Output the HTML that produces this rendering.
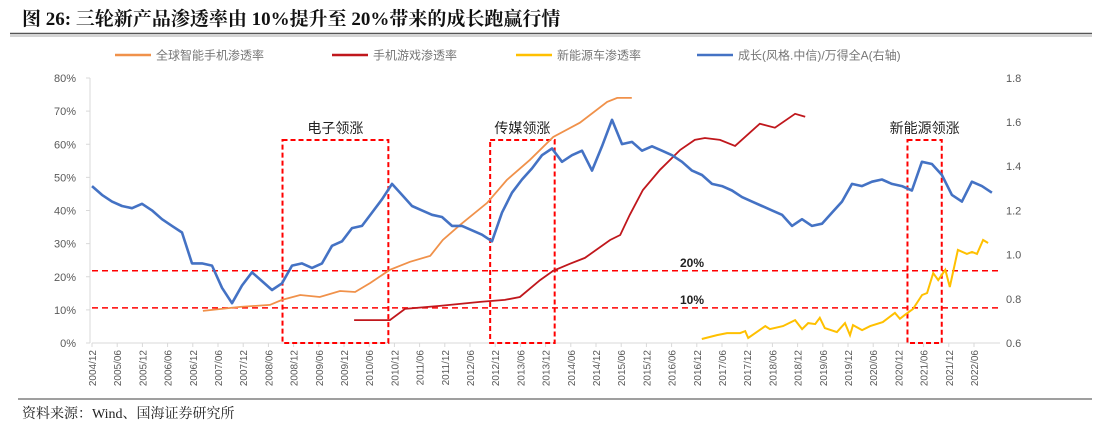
<!DOCTYPE html>
<html><head><meta charset="utf-8"><style>
body{margin:0;background:#fff;}
svg text{font-family:"Liberation Sans","Noto Sans CJK SC",sans-serif;}
</style></head><body>
<svg id="c" width="1108" height="441" viewBox="0 0 1108 441" xmlns="http://www.w3.org/2000/svg">
<text x="22" y="25" font-size="19" font-weight="bold" fill="#111" style="font-family:'Liberation Serif','Noto Serif CJK SC',serif">图 26:  三轮新产品渗透率由 10%提升至 20%带来的成长跑赢行情</text>
<line x1="10" y1="33.5" x2="1092" y2="33.5" stroke="#555" stroke-width="1.5"/>
<line x1="10" y1="36" x2="1092" y2="36" stroke="#aaa" stroke-width="1"/>
<line x1="18" y1="399" x2="1092" y2="399" stroke="#666" stroke-width="1.2"/>
<text x="22" y="418" font-size="14" fill="#222" style="font-family:'Liberation Serif','Noto Serif CJK SC',serif">资料来源：Wind、国海证券研究所</text>
<g id="legend"></g>
<g id="axes"></g><g id="marks"></g>
</svg>
<script>
const xTicks=["2004/12","2005/06","2005/12","2006/06","2006/12","2007/06","2007/12","2008/06","2008/12","2009/06","2009/12","2010/06","2010/12","2011/06","2011/12","2012/06","2012/12","2013/06","2013/12","2014/06","2014/12","2015/06","2015/12","2016/06","2016/12","2017/06","2017/12","2018/06","2018/12","2019/06","2019/12","2020/06","2020/12","2021/06","2021/12","2022/06"];
const leftTicks=[0,10,20,30,40,50,60,70,80];
const rightTicks=[0.6,0.8,1.0,1.2,1.4,1.6,1.8];
const blueStart=2004.92, blueStep=0.1984;
const blueVals=[1.31,1.27,1.24,1.22,1.21,1.23,1.20,1.16,1.13,1.10,0.96,0.96,0.95,0.85,0.78,0.86,0.92,0.88,0.84,0.87,0.95,0.96,0.94,0.96,1.04,1.06,1.12,1.13,1.19,1.25,1.32,1.27,1.22,1.20,1.18,1.17,1.13,1.13,1.11,1.09,1.06,1.19,1.28,1.34,1.39,1.45,1.48,1.42,1.45,1.47,1.38,1.49,1.61,1.50,1.51,1.47,1.49,1.47,1.45,1.42,1.38,1.36,1.32,1.31,1.29,1.26,1.24,1.22,1.20,1.18,1.13,1.16,1.13,1.14,1.19,1.24,1.32,1.31,1.33,1.34,1.32,1.31,1.29,1.42,1.41,1.36,1.27,1.24,1.33,1.31,1.28];
const orangeT=[2007.12,2007.86,2008.45,2008.69,2009.05,2009.44,2009.84,2010.14,2010.44,2010.83,2011.23,2011.63,2011.88,2012.22,2012.76,2013.15,2013.61,2014.07,2014.60,2015.14,2015.34,2015.63];
const orangeV=[9.7,10.9,11.5,13.0,14.5,13.9,15.7,15.4,18.1,22.1,24.5,26.3,31.1,35.6,42.3,49.2,55.3,62.2,66.5,72.8,74.0,74.0];
const redT=[2010.12,2010.83,2011.13,2011.82,2012.62,2013.11,2013.41,2013.81,2014.07,2014.40,2014.70,2015.20,2015.40,2015.59,2015.85,2016.19,2016.59,2016.88,2017.08,2017.38,2017.68,2018.17,2018.47,2018.87,2019.07];
const redV=[6.9,6.9,10.3,11.2,12.4,13.0,13.9,19.0,21.8,23.9,25.7,31.1,32.6,38.7,46.2,52.3,58.3,61.3,61.9,61.3,59.5,66.2,65.0,69.2,68.3];
const yellowT=[2017.02,2017.32,2017.52,2017.78,2017.88,2017.94,2018.28,2018.37,2018.63,2018.87,2019.01,2019.13,2019.27,2019.36,2019.46,2019.70,2019.86,2019.96,2020.02,2020.20,2020.36,2020.61,2020.85,2020.95,2021.05,2021.21,2021.39,2021.49,2021.61,2021.71,2021.85,2021.94,2022.10,2022.28,2022.38,2022.48,2022.60,2022.70];
const yellowV=[1.2,2.4,3.0,3.0,3.6,1.5,5.1,4.2,5.1,6.9,4.2,6.0,5.7,7.6,4.5,3.3,6.0,2.4,5.4,3.9,5.1,6.3,9.1,7.3,8.5,10.3,14.5,15.1,21.1,19.0,22.1,16.9,28.1,26.9,27.5,26.9,31.1,30.2];
const refLevels=[21.8,10.6];
const refLabels=["20%","10%"];
const boxStart=[2008.70,2012.82,2021.10];
const boxEnd=[2010.80,2014.10,2021.78];
const boxLabels=["电子领涨","传媒领涨","新能源领涨"];

const NS="http://www.w3.org/2000/svg";
const X=t=>92+(t-2004.92)*50.4;
const YL=v=>343-v*3.3125;
const YR=v=>343-(v-0.6)*221;
function mk(tag,attrs,parent,txt){const e=document.createElementNS(NS,tag);for(const k in attrs)e.setAttribute(k,attrs[k]);if(txt!==undefined)e.textContent=txt;parent.appendChild(e);return e;}
const axes=document.getElementById('axes'),marks=document.getElementById('marks'),lg=document.getElementById('legend');

let ax=mk('line',{x1:92,y1:343,x2:1000,y2:343,stroke:'#d9d9d9','stroke-width':1},axes);


let ay=mk('line',{x1:90,y1:78,x2:90,y2:343,stroke:'#d9d9d9','stroke-width':1},axes);


leftTicks.forEach(v=>{
  const tk=mk('line',{x1:86,y1:YL(v),x2:90,y2:YL(v),stroke:'#d9d9d9'},axes);
  
  
});
xTicks.forEach((s,i)=>{
  const x=92+i*25.2;
  const tk=mk('line',{x1:x,y1:343,x2:x,y2:347,stroke:'#d9d9d9'},axes);
  
  
  const t=mk('text',{x:0,y:0,transform:`translate(${x+4},350) rotate(-90)`,'text-anchor':'end','font-size':10,fill:'#595959'},axes,s);
  
  
});
leftTicks.forEach(v=>{
  const t=mk('text',{x:76,y:YL(v)+4,'text-anchor':'end','font-size':11,fill:'#595959'},axes,v+'%');
  
  
});
rightTicks.forEach(v=>{
  const t=mk('text',{x:1006,y:YR(v)+4,'font-size':11,fill:'#595959'},axes,v.toFixed(1));
  
  
});
refLevels.forEach((v,i)=>{
  const l=mk('line',{x1:92,y1:YL(v),x2:1000,y2:YL(v),stroke:'#ff0000','stroke-width':1.5,'stroke-dasharray':'6,4'},marks);
  
  
  const t=mk('text',{x:680,y:YL(v)-4,'font-size':12,'font-weight':'bold',fill:'#222'},marks,refLabels[i]);
  
  
});
boxStart.forEach((s,i)=>{
  const x1=X(s),x2=X(boxEnd[i]);
  const r=mk('rect',{x:x1,y:140,width:x2-x1,height:203,fill:'none',stroke:'#ff0000','stroke-width':2,'stroke-dasharray':'5,3'},marks);
  
  
  const t=mk('text',{x:(x1+x2)/2,y:133,'text-anchor':'middle','font-size':14,fill:'#222'},marks,boxLabels[i]);
  
  
});
function path(ts,vs,yf){return ts.map((t,i)=>(i?'L':'M')+X(t).toFixed(1)+','+yf(vs[i]).toFixed(1)).join('');}
const blueT=blueVals.map((v,i)=>blueStart+i*blueStep);
let p;
p=mk('path',{d:path(orangeT,orangeV,YL),fill:'none',stroke:'#f0914a','stroke-width':1.8},marks);


p=mk('path',{d:path(redT,redV,YL),fill:'none',stroke:'#c0171c','stroke-width':1.8},marks);


p=mk('path',{d:path(yellowT,yellowV,YL),fill:'none',stroke:'#ffc000','stroke-width':2},marks);


p=mk('path',{d:path(blueT,blueVals,YR),fill:'none',stroke:'#4472c4','stroke-width':2.6,'stroke-linejoin':'round'},marks);



const legNames=["全球智能手机渗透率","手机游戏渗透率","新能源车渗透率","成长(风格.中信)/万得全A(右轴)"];
const legColors=["#f0914a","#c0171c","#ffc000","#4472c4"];
const legX=[115,332,516,697];
legNames.forEach((n,i)=>{
  const g=mk('g',{},lg);
  
  
  mk('line',{x1:legX[i],y1:55,x2:legX[i]+36,y2:55,stroke:legColors[i],'stroke-width':2.5},g);
  mk('text',{x:legX[i]+41,y:59.5,'font-size':12,fill:'#777'},g,n);
});
</script>
</body></html>
